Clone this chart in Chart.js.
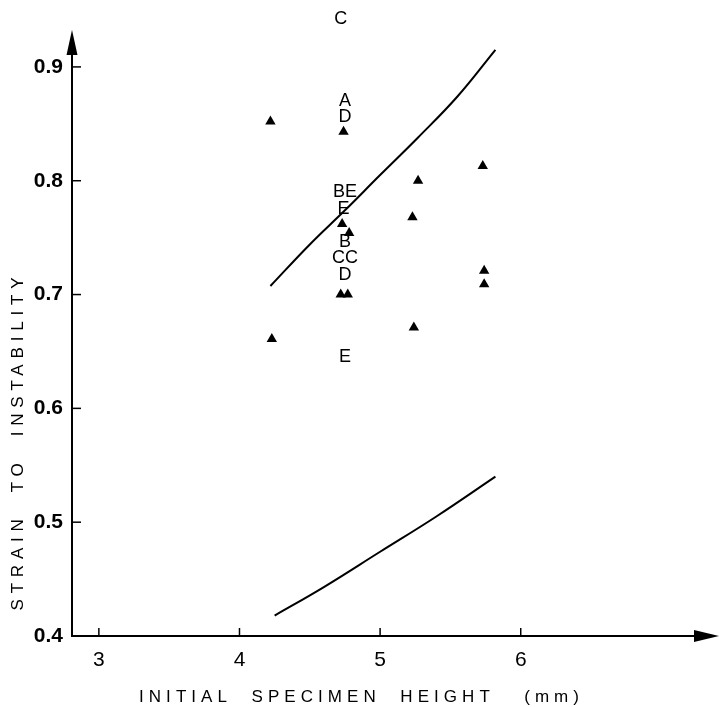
<!DOCTYPE html>
<html>
<head>
<meta charset="utf-8">
<script src="https://cdn.jsdelivr.net/npm/chart.js@4.4.1/dist/chart.umd.min.js"></script>
<style>
  html, body { margin: 0; padding: 0; background: #fff; }
</style>
</head>
<body>
<canvas id="chart" width="725" height="707"></canvas>
<script>
// tick values on both axes
const xTicks = [3, 4, 5, 6];
const yTicks = [0.4, 0.5, 0.6, 0.7, 0.8, 0.9];

// measured specimens (filled triangles)
const triX = [4.22, 4.74, 5.27, 5.23, 4.73, 4.78, 4.72, 4.77, 4.23, 5.24, 5.73, 5.74, 5.74];
const triY = [0.852, 0.843, 0.800, 0.768, 0.762, 0.754, 0.700, 0.700, 0.661, 0.671, 0.813, 0.721, 0.709];

// letter symbols plotted at h = 4.75 mm
const letterText = ['C', 'A', 'D', 'BE', 'E', 'B', 'CC', 'D', 'E'];
const letterX = [4.72, 4.75, 4.75, 4.75, 4.74, 4.75, 4.75, 4.75, 4.75];
const letterY = [0.942, 0.870, 0.856, 0.790, 0.775, 0.746, 0.732, 0.717, 0.645];

// predicted curves
const upperX = [4.22, 4.5, 4.75, 5.0, 5.27, 5.55, 5.82];
const upperY = [0.7075, 0.744, 0.774, 0.805, 0.838, 0.874, 0.915];
const lowerX = [4.25, 4.6, 5.0, 5.4, 5.82];
const lowerY = [0.418, 0.443, 0.474, 0.505, 0.540];

const xTitle = 'INITIAL  SPECIMEN  HEIGHT   (mm)';
const yTitle = 'STRAIN  TO  INSTABILITY';
const yArrowTip = 0.9325;

const FONT = '"Liberation Sans", Arial, sans-serif';

const pts = (xs, ys) => xs.map((v, i) => ({ x: v, y: ys[i] }));

// draw text spread out to a given width (the original axis titles are letter-spaced)
function spacedText(ctx, text, cx, cy, width) {
    ctx.letterSpacing = '0px';
    const w = ctx.measureText(text).width;
    const sp = (width - w) / (text.length - 1);
    ctx.letterSpacing = sp + 'px';
    ctx.textAlign = 'left';
    ctx.fillText(text, cx - width / 2, cy);
    ctx.letterSpacing = '0px';
}

const extras = {
    id: 'extras',
    beforeDatasetsDraw(chart) {
        const { ctx, scales: { x, y } } = chart;
        const x0 = x.left;
        const y0 = y.getPixelForValue(0.4);
        ctx.save();
        ctx.strokeStyle = '#000';
        ctx.fillStyle = '#000';
        ctx.lineWidth = 2;

        // y axis with arrow
        const yTip = y.getPixelForValue(yArrowTip);
        ctx.beginPath();
        ctx.moveTo(x0, y0 + 1);
        ctx.lineTo(x0, yTip + 20);
        ctx.stroke();
        ctx.beginPath();
        ctx.moveTo(x0, yTip);
        ctx.lineTo(x0 - 5.5, yTip + 25);
        ctx.lineTo(x0 + 5.5, yTip + 25);
        ctx.closePath();
        ctx.fill();

        // x axis with arrow
        const xTip = x.right;
        ctx.beginPath();
        ctx.moveTo(x0 - 1, y0);
        ctx.lineTo(xTip - 20, y0);
        ctx.stroke();
        ctx.beginPath();
        ctx.moveTo(xTip, y0);
        ctx.lineTo(xTip - 25, y0 - 6);
        ctx.lineTo(xTip - 25, y0 + 6);
        ctx.closePath();
        ctx.fill();

        // inward tick marks
        ctx.lineWidth = 1.5;
        xTicks.forEach(v => {
            const px = x.getPixelForValue(v);
            ctx.beginPath();
            ctx.moveTo(px, y0);
            ctx.lineTo(px, y0 - 8);
            ctx.stroke();
        });
        yTicks.forEach(v => {
            const py = y.getPixelForValue(v);
            ctx.beginPath();
            ctx.moveTo(x0, py);
            ctx.lineTo(x0 + 9, py);
            ctx.stroke();
        });
        ctx.restore();
    },
    afterDatasetsDraw(chart) {
        const { ctx } = chart;
        const meta = chart.getDatasetMeta(3);
        ctx.save();
        ctx.fillStyle = '#000';
        ctx.font = '18px ' + FONT;
        ctx.textAlign = 'center';
        ctx.textBaseline = 'middle';
        meta.data.forEach((el, i) => ctx.fillText(letterText[i], el.x, el.y));
        ctx.restore();
    },
    afterDraw(chart) {
        const { ctx } = chart;
        ctx.save();
        ctx.fillStyle = '#000';
        ctx.textBaseline = 'middle';
        ctx.font = '17px ' + FONT;
        spacedText(ctx, xTitle, 359, 697, 440);

        ctx.translate(18, 444);
        ctx.rotate(-Math.PI / 2);
        ctx.font = '17px ' + FONT;
        spacedText(ctx, yTitle, 0, 0, 333);
        ctx.restore();
    }
};

new Chart(document.getElementById('chart'), {
    type: 'scatter',
    data: {
        datasets: [
            {
                label: 'specimens',
                data: pts(triX, triY),
                pointStyle: 'triangle',
                pointRadius: 6,
                backgroundColor: '#000',
                borderColor: '#000',
                borderWidth: 0,
            },
            {
                label: 'upper',
                data: pts(upperX, upperY),
                showLine: true,
                pointRadius: 0,
                borderColor: '#000',
                borderWidth: 2,
                tension: 0.4,
            },
            {
                label: 'lower',
                data: pts(lowerX, lowerY),
                showLine: true,
                pointRadius: 0,
                borderColor: '#000',
                borderWidth: 2,
                tension: 0.4,
            },
            {
                label: 'letters',
                data: pts(letterX, letterY),
                pointRadius: 0,
            },
        ],
    },
    options: {
        responsive: false,
        animation: false,
        layout: { padding: { top: 10, right: 1, left: 0, bottom: 0 } },
        plugins: {
            legend: { display: false },
            tooltip: { enabled: false },
        },
        scales: {
            x: {
                type: 'linear',
                min: 2.809,
                max: 7.41,
                afterBuildTicks: s => { s.ticks = xTicks.map(v => ({ value: v })); },
                afterFit: s => { s.height = 71; s.paddingLeft = 0; s.paddingRight = 0; },
                grid: { display: false, drawTicks: false },
                border: { display: false },
                ticks: {
                    color: '#000',
                    padding: 12,
                    font: { family: FONT, size: 21 },
                },
            },
            y: {
                min: 0.4,
                max: 0.95,
                afterBuildTicks: s => { s.ticks = yTicks.map(v => ({ value: v })); },
                afterFit: s => { s.width = 72; s.paddingTop = 0; s.paddingBottom = 0; },
                grid: { display: false, drawTicks: false },
                border: { display: false },
                ticks: {
                    color: '#000',
                    padding: 9,
                    font: { family: FONT, size: 21, weight: 'bold' },
                    callback: v => v.toFixed(1),
                },
            },
        },
    },
    plugins: [extras],
});
</script>
</body>
</html>
